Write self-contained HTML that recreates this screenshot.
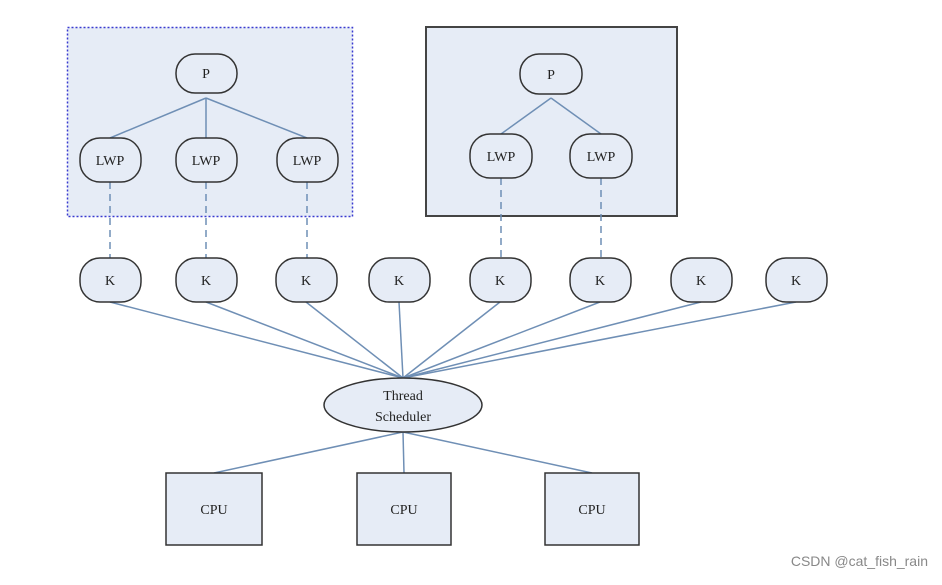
<!DOCTYPE html>
<html><head><style>body{margin:0;background:#fff}</style></head><body>
<svg width="942" height="580" xmlns="http://www.w3.org/2000/svg" font-family="Liberation Serif, serif" font-size="14">
<rect width="942" height="580" fill="#fff"/>
<rect x="67.5" y="27.5" width="285" height="189" fill="#e6ecf6" stroke="#3a3ad0" stroke-width="1.5" stroke-dasharray="2,2"/>
<rect x="426" y="27" width="251" height="189" fill="#e6ecf6" stroke="#444" stroke-width="2"/>
<g stroke="#6f8fb5" stroke-width="1.5" fill="none">
<line x1="206" y1="98" x2="110" y2="138"/><line x1="206" y1="98" x2="206" y2="138"/><line x1="206" y1="98" x2="307" y2="138"/>
<line x1="551" y1="98" x2="501" y2="134"/><line x1="551" y1="98" x2="601" y2="134"/>
<g stroke-dasharray="7,5"><line x1="110" y1="182" x2="110" y2="258"/><line x1="206" y1="182" x2="206" y2="258"/><line x1="307" y1="182" x2="307" y2="258"/><line x1="501" y1="178" x2="501" y2="258"/><line x1="601" y1="178" x2="601" y2="258"/></g>
<line x1="110" y1="302" x2="403" y2="378"/><line x1="206" y1="302" x2="403" y2="378"/><line x1="306" y1="302" x2="403" y2="378"/><line x1="399" y1="302" x2="403" y2="378"/><line x1="500" y1="302" x2="403" y2="378"/><line x1="600" y1="302" x2="403" y2="378"/><line x1="701" y1="302" x2="403" y2="378"/><line x1="796" y1="302" x2="403" y2="378"/>
<line x1="403" y1="432" x2="214" y2="473"/><line x1="403" y1="432" x2="404" y2="473"/><line x1="403" y1="432" x2="592" y2="473"/>
</g>
<g fill="#e6ecf6" stroke="#333" stroke-width="1.5">
<rect x="176" y="54" width="61" height="39" rx="19"/>
<rect x="520" y="54" width="62" height="40" rx="19"/>
<rect x="80" y="138" width="61" height="44" rx="20"/><rect x="176" y="138" width="61" height="44" rx="20"/><rect x="277" y="138" width="61" height="44" rx="20"/>
<rect x="470" y="134" width="62" height="44" rx="20"/><rect x="570" y="134" width="62" height="44" rx="20"/>
<rect x="80" y="258" width="61" height="44" rx="20"/><rect x="176" y="258" width="61" height="44" rx="20"/><rect x="276" y="258" width="61" height="44" rx="20"/><rect x="369" y="258" width="61" height="44" rx="20"/><rect x="470" y="258" width="61" height="44" rx="20"/><rect x="570" y="258" width="61" height="44" rx="20"/><rect x="671" y="258" width="61" height="44" rx="20"/><rect x="766" y="258" width="61" height="44" rx="20"/>
<ellipse cx="403" cy="405" rx="79" ry="27"/>
<rect x="166" y="473" width="96" height="72"/><rect x="357" y="473" width="94" height="72"/><rect x="545" y="473" width="94" height="72"/>
</g>
<g fill="#222" text-anchor="middle">
<text x="206" y="78">P</text><text x="551" y="79">P</text>
<text x="110" y="165">LWP</text><text x="206" y="165">LWP</text><text x="307" y="165">LWP</text><text x="501" y="161">LWP</text><text x="601" y="161">LWP</text>
<text x="110" y="285">K</text><text x="206" y="285">K</text><text x="306" y="285">K</text><text x="399" y="285">K</text><text x="500" y="285">K</text><text x="600" y="285">K</text><text x="701" y="285">K</text><text x="796" y="285">K</text>
<text x="403" y="400">Thread</text><text x="403" y="421">Scheduler</text>
<text x="214" y="514">CPU</text><text x="404" y="514">CPU</text><text x="592" y="514">CPU</text>
</g>
<text x="928" y="566" text-anchor="end" font-family="Liberation Sans, sans-serif" font-size="14" fill="#888">CSDN @cat_fish_rain</text>
</svg>
</body></html>
